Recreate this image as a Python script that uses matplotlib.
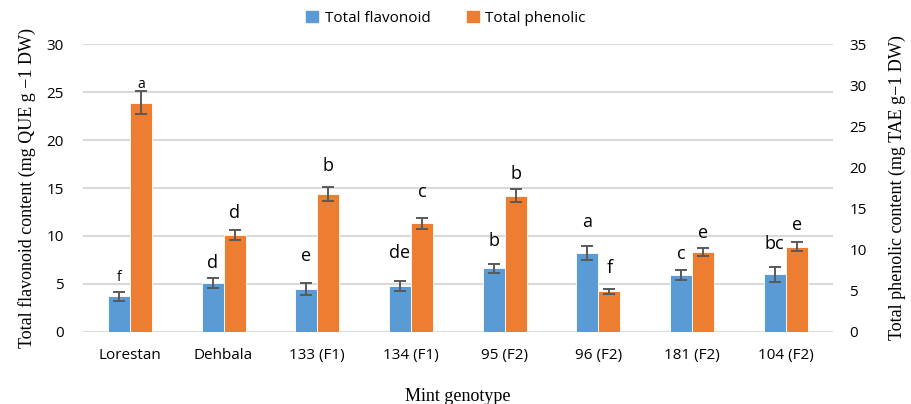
import numpy as np
import matplotlib.pyplot as plt

# Mint genotypes and measured contents
genotypes = ["Lorestan", "Dehbala", "133 (F1)", "134 (F1)",
             "95 (F2)", "96 (F2)", "181 (F2)", "104 (F2)"]
flavonoid = [3.7, 5.1, 4.45, 4.8, 6.6, 8.2, 5.9, 6.0]          # mg QUE g-1 DW
flavonoid_err = [0.45, 0.5, 0.6, 0.5, 0.45, 0.75, 0.5, 0.78]
phenolic = [27.9, 11.75, 16.8, 13.2, 16.55, 4.9, 9.7, 10.35]   # mg TAE g-1 DW
phenolic_err = [1.4, 0.6, 0.85, 0.7, 0.8, 0.3, 0.53, 0.55]
flavonoid_letters = ["f", "d", "e", "de", "b", "a", "c", "bc"]
phenolic_letters = ["a", "d", "b", "c", "b", "f", "e", "e"]

# Vertical gap (pixels) between each error cap and its letter
flav_gap = [7, 6, 18, 19, 14, 15, 7, 14]
phen_gap = [-1, 8, 12, 17, 6, 12, 6, 8]

BLUE = "#5B9BD5"
ORANGE = "#ED7D31"
ERR = "#595959"
GRID = "#D9D9D9"
SANS = "Open Sans"
SERIF = "Liberation Serif"

fig = plt.figure(figsize=(9.12, 4.04), dpi=100)
ax = fig.add_axes([0.091, 0.179, 0.822, 0.711])
ax2 = ax.twinx()

x = np.arange(len(genotypes))
w = 0.235

ax.bar(x - w / 2, flavonoid, w, color=BLUE, edgecolor="white", linewidth=0.6, zorder=3)
ax.errorbar(x - w / 2, flavonoid, yerr=flavonoid_err, fmt="none", ecolor=ERR,
            elinewidth=1.4, capsize=4, capthick=1.4, zorder=4)
ax2.bar(x + w / 2, phenolic, w, color=ORANGE, edgecolor="white", linewidth=0.6, zorder=3)
ax2.errorbar(x + w / 2, phenolic, yerr=phenolic_err, fmt="none", ecolor=ERR,
             elinewidth=1.4, capsize=4, capthick=1.4, zorder=4)

ax.set_xlim(-0.5, len(genotypes) - 0.5)
ax.set_ylim(0, 30)
ax2.set_ylim(0, 35)
ax.set_yticks(np.arange(0, 31, 5))
ax2.set_yticks(np.arange(0, 36, 5))
ax.set_xticks(x)
ax.set_xticklabels(genotypes, fontfamily=SANS, fontsize=11)

ax.grid(axis="y", color=GRID, linewidth=1.5, zorder=0)
ax.set_axisbelow(True)
for a in (ax, ax2):
    for s in a.spines.values():
        s.set_visible(False)
    a.tick_params(length=0)
ax.tick_params(axis="x", pad=12)
ax.tick_params(axis="y", pad=14)
ax2.tick_params(axis="y", pad=12)
for lab in ax.get_yticklabels() + ax2.get_yticklabels():
    lab.set_fontfamily(SANS)
    lab.set_fontsize(11)

# Significance letters above each error bar
for i in range(len(genotypes)):
    fs = 10 if i == 0 else 13
    ax.annotate(flavonoid_letters[i], (x[i] - w / 2, flavonoid[i] + flavonoid_err[i]),
                xytext=(0, flav_gap[i]), textcoords="offset pixels",
                ha="center", va="bottom", fontfamily=SANS, fontsize=fs, zorder=5)
    ax2.annotate(phenolic_letters[i], (x[i] + w / 2, phenolic[i] + phenolic_err[i]),
                 xytext=(0, phen_gap[i]), textcoords="offset pixels",
                 ha="center", va="bottom", fontfamily=SANS, fontsize=fs, zorder=5)

ax.set_ylabel("Total flavonoid content (mg QUE g −1 DW)", fontfamily=SERIF,
              fontsize=13, labelpad=7)
ax2.set_ylabel("Total phenolic content (mg TAE g−1 DW)", fontfamily=SERIF,
               fontsize=13, labelpad=16)
ax.set_xlabel("Mint genotype", fontfamily=SERIF, fontsize=13, labelpad=18)

# Legend across the top
handles = [plt.Rectangle((0, 0), 1, 1, color=BLUE), plt.Rectangle((0, 0), 1, 1, color=ORANGE)]
fig.legend(handles, ["Total flavonoid", "Total phenolic"], loc="center",
           bbox_to_anchor=(0.489, 0.955), ncol=2, frameon=False,
           prop={"family": SANS, "size": 11}, handlelength=0.8, handleheight=0.8,
           handletextpad=0.4, columnspacing=2.4)

fig.savefig("out.png", dpi=100)
